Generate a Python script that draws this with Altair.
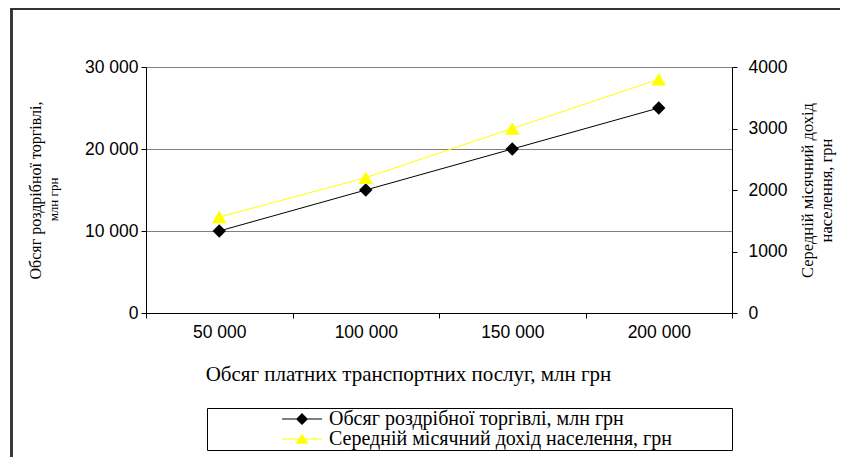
import altair as alt
import pandas as pd

categories = ["50 000", "100 000", "150 000", "200 000"]
retail = [10000, 15000, 20000, 25000]
income = [1560, 2200, 3000, 3800]
series_names = ["Обсяг роздрібної торгівлі, млн грн",
                "Середній місячний дохід населення, грн"]
series_colors = ["black", "#FFFF00"]
left_ticks = [0, 10000, 20000, 30000]
right_ticks = [0, 1000, 2000, 3000, 4000]

df = pd.DataFrame({"cat": categories, "retail": retail, "income": income})
leg = pd.DataFrame({"series": series_names})

SANS = "Liberation Sans"
SERIF = "Liberation Serif"

# legend symbols: a short line with the marker on it
legend_paths = [
    "M64.125,0M8,-0.0625H13V0.0625H8ZM10.5,-0.75L11.25,0L10.5,0.75L9.75,0Z",
    "M64.125,0M8,-0.0625H13V0.0625H8ZM10.5,-0.7L11.3,0.6L9.7,0.6Z",
]

x_enc = alt.X(
    "cat:N", sort=categories,
    scale=alt.Scale(type="band", paddingInner=0, paddingOuter=0),
    axis=alt.Axis(
        title="Обсяг платних транспортних послуг, млн грн",
        titleFont=SERIF, titleFontSize=21, titleFontWeight="normal", titleColor="black",
        titlePadding=23, titleX=262,
        labelFont=SANS, labelFontSize=17.5, labelColor="black", labelAngle=0, labelPadding=5,
        tickBand="extent", tickSize=5, tickColor="black", domainColor="black",
        grid=False,
    ),
)

y_left = alt.Y(
    "retail:Q",
    scale=alt.Scale(domain=[0, 30000], nice=False),
    axis=alt.Axis(
        values=left_ticks,
        labelExpr="replace(format(datum.value, ','), ',', ' ')",
        title="Обсяг роздрібної торгівлі,",
        titleFont=SERIF, titleFontSize=16, titleFontWeight="normal", titleColor="black",
        titlePadding=41,
        labelFont=SANS, labelFontSize=17.5, labelColor="black", labelPadding=3,
        tickSize=5, tickColor="black", domainColor="black",
        grid=True, gridColor="#808080", gridWidth=1,
    ),
)

y_right = alt.Y(
    "income:Q",
    scale=alt.Scale(domain=[0, 4000], nice=False),
    axis=alt.Axis(
        orient="right", values=right_ticks, format="d",
        title=["Середній місячний дохід", "населення, грн"],
        titleFont=SERIF, titleFontSize=16.5, titleFontWeight="normal", titleColor="black",
        titleAngle=270, titleBaseline="top", titleAlign="center", titleLineHeight=19,
        titleX=67, titleY=123,
        labelFont=SANS, labelFontSize=17.5, labelColor="black", labelPadding=11,
        tickSize=5, tickColor="black", domainColor="black",
        grid=False,
    ),
)

base = alt.Chart(df)

black_layer = alt.layer(
    base.mark_line(color="black", strokeWidth=1).encode(x=x_enc, y=y_left),
    base.mark_point(filled=True, shape="diamond", size=180, color="black", opacity=1)
        .encode(x=x_enc, y=y_left),
)

yellow_layer = alt.layer(
    base.mark_line(color="#FFFF00", strokeWidth=1).encode(x=x_enc, y=y_right),
    base.mark_point(filled=True, shape="triangle-up", size=210, color="#FFFF00", opacity=1)
        .encode(x=x_enc, y=y_right),
)

legend = alt.Legend(
    title=None, orient="none", legendX=61, legendY=341, direction="vertical",
    symbolSize=256, symbolStrokeWidth=0, symbolOpacity=1, symbolOffset=0,
    labelFont=SERIF, labelFontSize=20, labelColor="black", labelLimit=700,
    labelOffset=101, padding=1, rowPadding=-6,
    strokeColor="black", fillColor="white",
)

legend_layer = alt.Chart(leg).mark_point(filled=True).encode(
    y=alt.Y("series:N", axis=alt.Axis(
        orient="left", title="млн грн", labels=False, ticks=False, domain=False, grid=False,
        titleFont=SERIF, titleFontSize=13, titleFontWeight="normal", titleColor="black",
        titlePadding=86, titleY=132,
    )),
    color=alt.Color("series:N", sort=series_names,
                    scale=alt.Scale(domain=series_names, range=series_colors), legend=legend),
    shape=alt.Shape("series:N", sort=series_names,
                    scale=alt.Scale(domain=series_names, range=legend_paths), legend=legend),
    opacity=alt.value(0),
)

frame_top = alt.Chart(df).mark_rule(color="#333333", strokeWidth=2).encode(
    x=alt.value(-135), x2=alt.value(700), y=alt.value(-58))
frame_left = alt.Chart(df).mark_rule(color="#333333", strokeWidth=2).encode(
    x=alt.value(-134.5), y=alt.value(-59), y2=alt.value(400))

chart = alt.layer(
    black_layer, yellow_layer, legend_layer, frame_top, frame_left
).resolve_scale(y="independent").properties(
    width=586, height=246,
    autosize=alt.AutoSizeParams(type="none"),
    padding={"left": 138, "top": 59, "right": 108, "bottom": 144},
    background="white",
).configure_view(stroke=None).configure_legend(
    labelFont=SERIF, labelFontSize=20, labelColor="black"
)

chart.save("out.html", embed_options={"renderer": "svg", "actions": False})
